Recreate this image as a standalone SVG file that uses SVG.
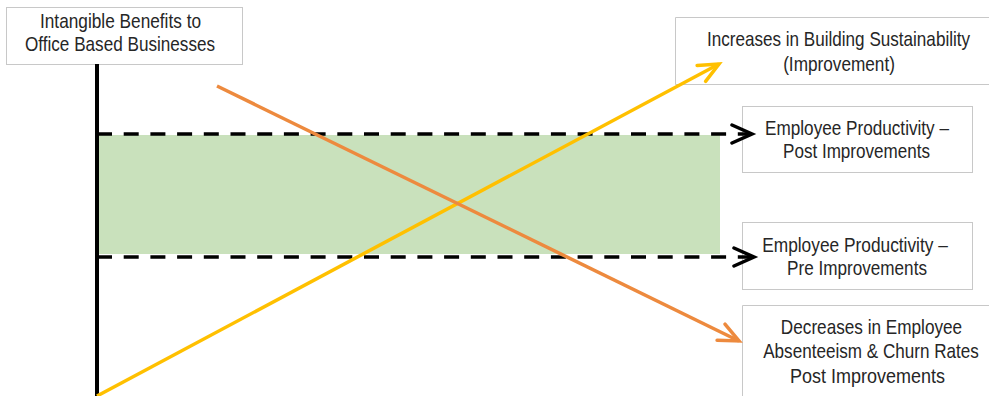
<svg xmlns="http://www.w3.org/2000/svg" width="989" height="396" viewBox="0 0 989 396">
<style>
.box{fill:#fff;stroke:#c8c8c8;stroke-width:1}
.t{font-family:"Liberation Sans",Arial,sans-serif;font-size:20px;fill:#262626;text-anchor:middle}
.dash{stroke:#000;stroke-width:3.5;fill:none;stroke-dasharray:15 11.7}
</style>
<defs>
<marker id="ab" markerUnits="userSpaceOnUse" markerWidth="30" markerHeight="30" refX="22" refY="11" orient="auto" viewBox="0 0 30 22">
<path d="M2,2 L22,11 L2,20" fill="none" stroke="#000" stroke-width="3.5" stroke-linecap="round" stroke-linejoin="miter"/>
</marker>
<marker id="ay" markerUnits="userSpaceOnUse" markerWidth="30" markerHeight="30" refX="22" refY="11" orient="auto" viewBox="0 0 30 22">
<path d="M2,2 L22,11 L2,20" fill="none" stroke="#ffc000" stroke-width="3.5" stroke-linecap="round"/>
</marker>
<marker id="ao" markerUnits="userSpaceOnUse" markerWidth="30" markerHeight="30" refX="22" refY="11" orient="auto" viewBox="0 0 30 22">
<path d="M2,2 L22,11 L2,20" fill="none" stroke="#ed8a3e" stroke-width="3.5" stroke-linecap="round"/>
</marker>
</defs>
<rect width="989" height="396" fill="#fff"/>
<g id="band">
<rect x="98" y="135" width="622" height="119" fill="#c9e1bc"/>
</g>
<g id="title">
<rect class="box" x="6.5" y="7.5" width="236" height="57"/>
<text class="t" transform="translate(120.5,28) scale(0.88,1)" textLength="183" lengthAdjust="spacingAndGlyphs">Intangible Benefits to</text>
<text class="t" transform="translate(120,51) scale(0.88,1)" textLength="216" lengthAdjust="spacingAndGlyphs">Office Based Businesses</text>
</g>
<g id="sustainability">
<rect x="675.5" y="17.5" width="314" height="67" fill="#fff"/>
<path d="M989,17.5 H675.5 V84.5 H989" fill="none" stroke="#c8c8c8" stroke-width="1"/>
<text class="t" transform="translate(838.5,46) scale(0.88,1)" textLength="299" lengthAdjust="spacingAndGlyphs">Increases in Building Sustainability</text>
<text class="t" transform="translate(839,71) scale(0.88,1)" textLength="127" lengthAdjust="spacingAndGlyphs">(Improvement)</text>
</g>
<g id="post">
<rect class="box" x="742.5" y="106.5" width="230" height="66"/>
<text class="t" transform="translate(857,135) scale(0.88,1)" textLength="209" lengthAdjust="spacingAndGlyphs">Employee Productivity –</text>
<text class="t" transform="translate(856.5,158) scale(0.88,1)" textLength="167" lengthAdjust="spacingAndGlyphs">Post Improvements</text>
</g>
<g id="pre">
<rect class="box" x="742.5" y="222.5" width="230" height="67"/>
<text class="t" transform="translate(855,251.5) scale(0.88,1)" textLength="211" lengthAdjust="spacingAndGlyphs">Employee Productivity –</text>
<text class="t" transform="translate(857,275) scale(0.88,1)" textLength="159" lengthAdjust="spacingAndGlyphs">Pre Improvements</text>
</g>
<g id="decreases">
<rect x="742.5" y="305.5" width="247" height="91" fill="#fff"/>
<path d="M989,305.5 H742.5 V396" fill="none" stroke="#c8c8c8" stroke-width="1"/>
<text class="t" transform="translate(871.5,334) scale(0.88,1)" textLength="206" lengthAdjust="spacingAndGlyphs">Decreases in Employee</text>
<text class="t" transform="translate(871,358) scale(0.88,1)" textLength="245" lengthAdjust="spacingAndGlyphs">Absenteeism &amp; Churn Rates</text>
<text class="t" transform="translate(867.5,383) scale(0.88,1)" textLength="176" lengthAdjust="spacingAndGlyphs">Post Improvements</text>
</g>
<g id="connectors">
<line x1="97" y1="64" x2="97" y2="396" stroke="#000" stroke-width="4"/>
<line class="dash" x1="97" y1="134" x2="752" y2="134" marker-end="url(#ab)"/>
<line class="dash" x1="97" y1="257" x2="754" y2="257" marker-end="url(#ab)"/>
<line x1="97" y1="396" x2="719" y2="64" stroke="#ffc000" stroke-width="3.5" marker-end="url(#ay)"/>
<line x1="217" y1="86" x2="739" y2="341" stroke="#ed8a3e" stroke-width="3.5" marker-end="url(#ao)"/>
</g>
</svg>
